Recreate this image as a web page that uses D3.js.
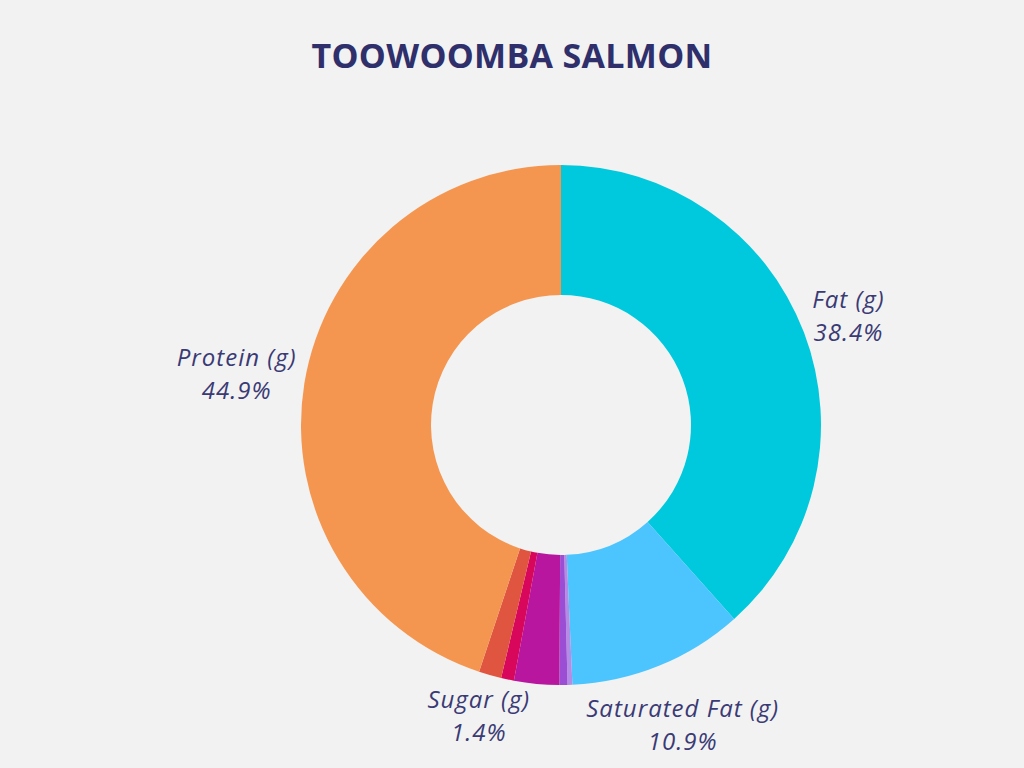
<!DOCTYPE html>
<html><head><meta charset="utf-8">
<script src="https://cdn.jsdelivr.net/npm/d3@7"></script>
<style>
html,body{margin:0;padding:0;background:#f2f2f2;}
svg{display:block;}
</style></head>
<body>
<svg id="chart" width="1024" height="768"></svg>
<script>
const title = "TOOWOOMBA SALMON";
const categories = ["Fat (g)", "Saturated Fat (g)", "Fiber (g)", "Sodium (g)", "Carbohydrates (g)", "Cholesterol (g)", "Sugar (g)", "Protein (g)"];
const values = [38.4, 10.9, 0.3, 0.5, 2.8, 0.8, 1.4, 44.9];
const colors = ["#00c9dd", "#4cc5fe", "#b38ce6", "#9b4dd4", "#b8169f", "#d8075c", "#e0553f", "#f59650"];
const labeled = [true, true, false, false, false, false, true, true];

const W = 1024, H = 768;
const svg = d3.select("#chart");
svg.append("rect").attr("width", W).attr("height", H).attr("fill", "#f2f2f2");

svg.append("text").attr("x", 512).attr("y", 68).attr("text-anchor", "middle")
  .attr("font-family", "'Open Sans', sans-serif").attr("font-weight", 700)
  .attr("font-size", 34).attr("letter-spacing", 0.3).attr("fill", "#2f2f6b").text(title);

const cx = 561, cy = 425, rOut = 260, rIn = 130;
const data = categories.map((c, i) => ({cat: c, value: values[i], color: colors[i], show: labeled[i]}));
const pie = d3.pie().value(d => d.value).sort(null);
const arcs = pie(data);
const arc = d3.arc().innerRadius(rIn).outerRadius(rOut);
const g = svg.append("g").attr("transform", `translate(${cx},${cy})`);
g.selectAll("path").data(arcs).join("path").attr("d", arc).attr("fill", d => d.data.color);

const total = d3.sum(values);
const lineH = 33, fs = 24;
const lbl = g.append("g");
arcs.filter(a => a.data.show).forEach(a => {
  const mid = (a.startAngle + a.endAngle) / 2;
  const s = Math.sin(mid), c = -Math.cos(mid);
  const t = lbl.append("text").attr("text-anchor", "middle")
    .attr("font-family", "'Open Sans', sans-serif").attr("font-style", "italic")
    .attr("font-size", fs).attr("letter-spacing", 1).attr("fill", "#3a3a75");
  t.append("tspan").attr("x", 0).attr("dy", 0).text(a.data.cat);
  t.append("tspan").attr("x", 0).attr("dy", lineH).text((a.data.value / total * 100).toFixed(1) + "%");
  const bb = t.node().getBBox();
  const d = 266;
  const R = d + Math.abs(s) * bb.width / 2 + Math.abs(c) * (bb.height / 2 - 11);
  const px = s * R, py = c * R;
  const bcx = bb.x + bb.width / 2, bcy = bb.y + bb.height / 2;
  t.attr("transform", `translate(${px - bcx},${py - bcy})`);
});
</script>
</body></html>
